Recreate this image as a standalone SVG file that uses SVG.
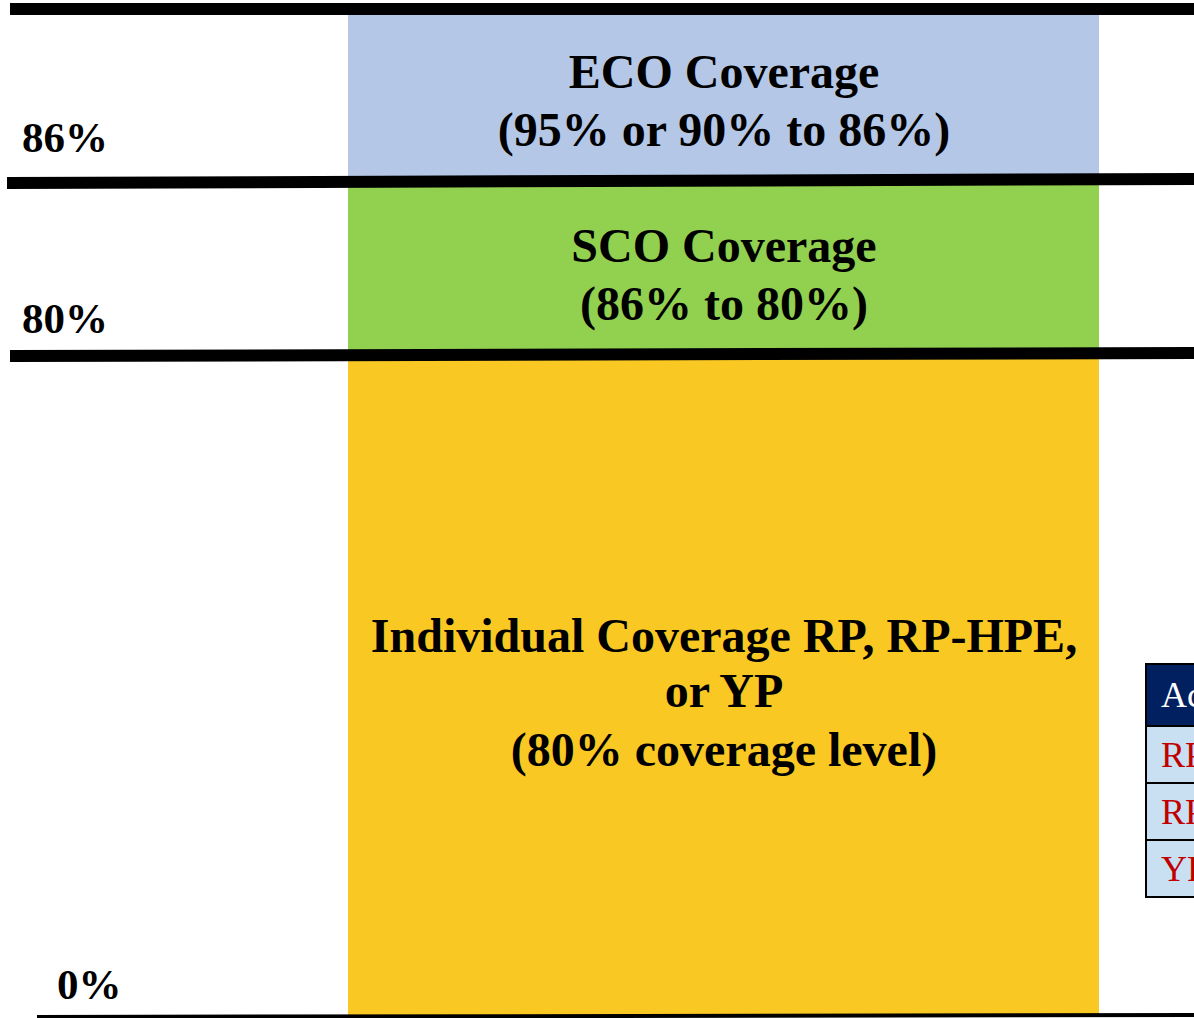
<svg xmlns="http://www.w3.org/2000/svg" width="1194" height="1018" viewBox="0 0 1194 1018">
<style>
.t{font-family:"Liberation Serif","Times New Roman",serif;font-weight:bold;fill:#000}
.big{font-size:48px;text-anchor:middle}
.lbl{font-size:43px}
.cell{font-family:"Liberation Serif","Times New Roman",serif;font-size:36px}
.ln{stroke:#000;fill:none}
</style>
<rect width="1194" height="1018" fill="#fff"/>
<g id="eco">
<rect x="348" y="15" width="751" height="164" fill="#B4C7E7"/>
<text class="t big" x="724" y="88">ECO Coverage</text>
<text class="t big" x="724" y="146">(95% or 90% to 86%)</text>
</g>
<g id="sco">
<rect x="348" y="183" width="751" height="172" fill="#92D050"/>
<text class="t big" x="724" y="262">SCO Coverage</text>
<text class="t big" x="724" y="320">(86% to 80%)</text>
</g>
<g id="individual">
<rect x="348" y="355" width="751" height="662" fill="#F9C823"/>
<text class="t big" x="724" y="652">Individual Coverage RP, RP-HPE,</text>
<text class="t big" x="724" y="707">or YP</text>
<text class="t big" x="724" y="766">(80% coverage level)</text>
</g>
<g id="labels">
<text class="t lbl" x="22" y="152">86%</text>
<text class="t lbl" x="22" y="333">80%</text>
<text class="t lbl" x="57" y="999">0%</text>
</g>
<g id="table">
<rect x="1146" y="664" width="60" height="62" fill="#002060" stroke="#000" stroke-width="2"/>
<rect x="1146" y="726" width="60" height="57" fill="#C9DFF2" stroke="#000" stroke-width="2"/>
<rect x="1146" y="783" width="60" height="57" fill="#C9DFF2" stroke="#000" stroke-width="2"/>
<rect x="1146" y="840" width="60" height="57" fill="#C9DFF2" stroke="#000" stroke-width="2"/>
<text class="cell" x="1161" y="707" fill="#fff">Ac</text>
<text class="cell" x="1161" y="767" fill="#C00000">RP</text>
<text class="cell" x="1161" y="824" fill="#C00000">RP</text>
<text class="cell" x="1161" y="881" fill="#C00000">YP</text>
</g>
<g id="connectors">
<line class="ln" x1="10" y1="9" x2="1194" y2="9" stroke-width="12"/>
<line class="ln" x1="7" y1="183" x2="1194" y2="179" stroke-width="12"/>
<line class="ln" x1="10" y1="356" x2="1194" y2="353" stroke-width="12"/>
<line class="ln" x1="37" y1="1017" x2="1194" y2="1015" stroke-width="4"/>
</g>
</svg>
